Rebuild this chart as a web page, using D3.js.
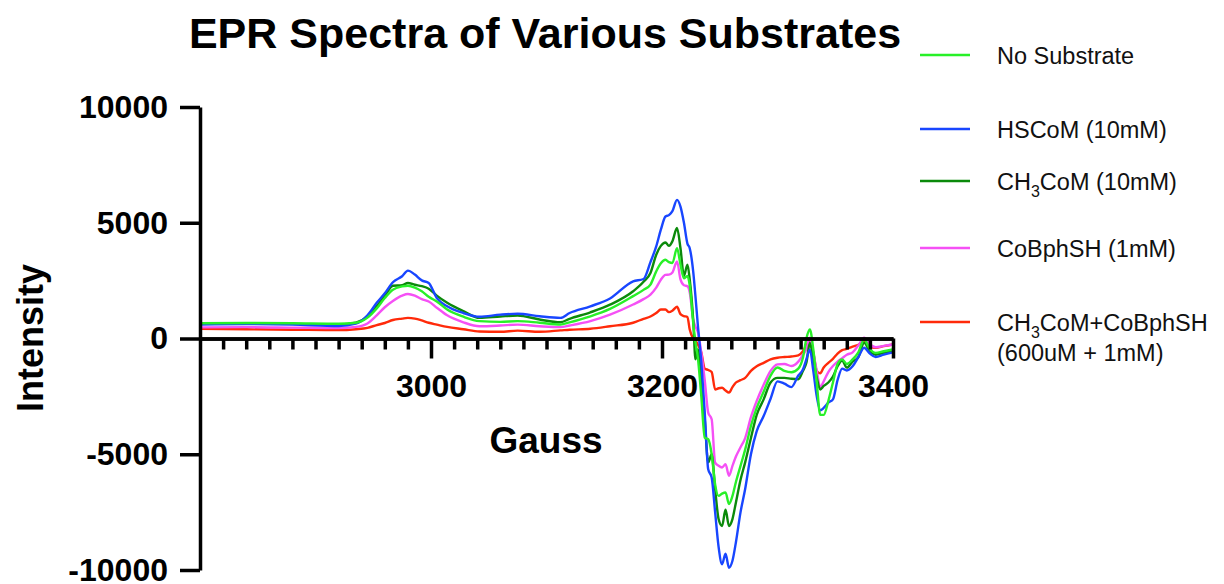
<!DOCTYPE html>
<html>
<head>
<meta charset="utf-8">
<script src="https://cdn.jsdelivr.net/npm/d3@7"></script>
<style>
  body { margin: 0; background: #fff; }
  svg { display: block; font-family: "Liberation Sans", Arial, Helvetica, sans-serif; }
</style>
</head>
<body>
<svg id="chart" width="1224" height="584"></svg>
<script>
// magnetic field (Gauss) shared by all spectra
const gauss = [
  2800, 2840, 2880, 2920, 2935, 2945, 2953, 2960, 2967, 2975,
  2980, 2986, 2992, 2998, 3005, 3014, 3028, 3042, 3060, 3075,
  3094, 3112, 3120, 3138, 3155, 3175, 3184, 3190, 3195, 3199,
  3203, 3206, 3209, 3213, 3216, 3219, 3222, 3224, 3227, 3229,
  3231, 3234, 3237, 3240, 3243, 3246, 3249, 3252, 3255, 3258,
  3261, 3264, 3268, 3272, 3277, 3282, 3288, 3294, 3300, 3306,
  3312, 3318, 3322, 3325, 3328, 3331, 3334, 3337, 3340, 3344,
  3348, 3352, 3356, 3360, 3365, 3370, 3375, 3380, 3385, 3392,
  3400
];

const noSubstrate = [
  660, 670, 660, 640, 680, 900, 1300, 1750, 2110, 2250,
  2280, 2200, 2040, 1800, 1600, 1250, 940, 750, 720, 750,
  680, 600, 700, 960, 1280, 1830, 2100, 2330, 2900, 3250,
  3400, 3300, 3260, 3900, 3200, 2600, 2700, 2300, 690, -170,
  -800, -2480, -4280, -4350, -5000, -6300, -6800, -6700, -6650, -7150,
  -6800, -6200, -5500, -4800, -3780, -3000, -2300, -1600, -1250, -1400,
  -1460, -1300, -830, 0, 390, -470, -1900, -3300, -3300, -2700,
  -1900, -1100, -900, -1100, -900, -600, -40, -450, -620, -550,
  -470
];

const hscom = [
  600, 620, 600, 540, 640, 1000, 1540, 1950, 2430, 2690,
  2930, 2760, 2510, 2400, 1750, 1390, 1100, 940, 1030, 1070,
  960, 890, 1100, 1390, 1730, 2470, 2570, 3300, 3980, 4700,
  5270, 5330, 5500, 5990, 5700, 5000, 4100, 3900, 2900, 1800,
  600, -1000, -3200, -5650, -6000, -7500, -9000, -9750, -9300, -9900,
  -9600, -8800, -7500, -6500, -5000, -4000, -3350, -2600, -1850, -1950,
  -2100, -1600, -1340, -900, -470, -1400, -2500, -3100, -3000, -2770,
  -2630, -1800, -1300, -1380, -1200, -800, -400, -650, -800, -700,
  -600
];

const ch3com = [
  640, 650, 630, 600, 680, 950, 1400, 1850, 2280, 2300,
  2400, 2320, 2260, 2150, 1850, 1540, 1180, 890, 950, 990,
  820, 700, 850, 1130, 1460, 2040, 2450, 2830, 3620, 4000,
  4150, 4000, 4200, 4770, 3900, 2700, 3190, 2550, 820, -900,
  -470, -1800, -3500, -5350, -5000, -6500, -7800, -8100, -7400, -8100,
  -7800, -7080, -6100, -5350, -4300, -3300, -2630, -1900, -1700, -1700,
  -1740, -1760, -1400, -1050, -190, -900, -1700, -2200, -2050, -1900,
  -1650, -1200, -950, -1260, -1000, -800, -190, -550, -700, -620,
  -550
];

const cobphsh = [
  480, 490, 470, 450, 500, 650, 1000, 1350, 1620, 1850,
  1920, 1850, 1700, 1600, 1330, 1000, 700, 530, 560, 600,
  530, 490, 560, 750, 1030, 1470, 1700, 1900, 2200, 2540,
  2750, 2760, 2850, 3330, 2550, 2300, 2260, 2000, 820, 500,
  300, -600, -1800, -3200, -3490, -5360, -5500, -5570, -5430, -5930,
  -5500, -5100, -4700, -4300, -3400, -2700, -2000, -1400, -1120, -1100,
  -1190, -1000, -700, -470, 30, -620, -1400, -2100, -1850, -1450,
  -1190, -1000, -850, -700, -600, -300, 30, -250, -380, -320,
  -260
];

const ch3comCobphsh = [
  420, 400, 380, 360, 400, 460, 580, 670, 800, 860,
  890, 860, 780, 680, 600, 500, 400, 300, 290, 340,
  290, 350, 380, 420, 530, 680, 850, 950, 1100, 1250,
  1250, 1140, 1200, 1370, 1050, 970, 930, 390, 0, -100,
  -250, -600, -1300, -1360, -1450, -2200, -2150, -2130, -2250, -2340,
  -2100, -1900, -1800, -1700, -1400, -1200, -1050, -900, -830, -800,
  -780, -730, -550, -300, -120, -620, -1400, -1500, -1250, -1050,
  -880, -650, -500, -450, -350, -270, -120, -350, -400, -330,
  -260
];

const seriesNames = [
  "No Substrate",
  "HSCoM (10mM)",
  "CH3CoM (10mM)",
  "CoBphSH (1mM)",
  "CH3CoM+CoBphSH\n(600uM + 1mM)"
];
const seriesValues = [noSubstrate, hscom, ch3com, cobphsh, ch3comCobphsh];

const xMajorTicks = [3000, 3200, 3400];
const yTicks = [-10000, -5000, 0, 5000, 10000];

// styling / layout
const colors = ["#28f028", "#1846ff", "#0b8a0b", "#f550f5", "#ff2a0a"];
const legendY = [55, 129, 181, 248, 322];

const svg = d3.select("#chart");

const x = d3.scaleLinear().domain([2800, 3400]).range([200, 893]);
const y = d3.scaleLinear().domain([-10000, 10000]).range([570, 107]);

const series = seriesNames.map((name, i) => ({
  name,
  color: colors[i],
  points: gauss.map((g, j) => [g, seriesValues[i][j]])
}));

const line = d3.line()
  .x(d => x(d[0]))
  .y(d => y(d[1]))
  .curve(d3.curveMonotoneX);

// spectra (first series ends up on top)
svg.append("g")
  .selectAll("path")
  .data(series.slice().reverse())
  .join("path")
  .attr("d", d => line(d.points))
  .attr("fill", "none")
  .attr("stroke", d => d.color)
  .attr("stroke-width", 2.4)
  .attr("stroke-linejoin", "round");

// plain hyphen for negatives, like the original
const fmt = d => String(d);

// x axis: minor ticks every 20 G, major every 200 G
const minorTicks = d3.range(2820, 3400, 20).filter(v => !xMajorTicks.includes(v));
const xMinor = svg.append("g")
  .attr("transform", `translate(0,${y(0)})`)
  .call(d3.axisBottom(x).tickValues(minorTicks).tickSize(11).tickSizeOuter(0).tickFormat(""));

const xMajor = svg.append("g")
  .attr("transform", `translate(0,${y(0)})`)
  .call(d3.axisBottom(x).tickValues(xMajorTicks).tickSize(20).tickSizeOuter(0).tickPadding(16).tickFormat(fmt));

const yAxis = svg.append("g")
  .attr("transform", `translate(${x(2800)},0)`)
  .call(d3.axisLeft(y).tickValues(yTicks).tickSize(20).tickSizeOuter(0).tickPadding(12).tickFormat(fmt));

[xMinor, xMajor, yAxis].forEach(g => {
  g.select(".domain").attr("stroke", "#000").attr("stroke-width", 3.5);
  g.selectAll(".tick line").attr("stroke", "#000").attr("stroke-width", 3.5);
  g.selectAll(".tick text")
    .attr("fill", "#000")
    .style("font-size", "32px")
    .style("font-weight", "bold")
    .style("font-family", "'Liberation Sans', Arial, sans-serif");
});

// titles
svg.append("text")
  .attr("x", 545).attr("y", 48)
  .attr("text-anchor", "middle")
  .style("font-size", "43px").style("font-weight", "bold")
  .text("EPR Spectra of Various Substrates");

svg.append("text")
  .attr("x", 546).attr("y", 453)
  .attr("text-anchor", "middle")
  .style("font-size", "37px").style("font-weight", "bold")
  .text("Gauss");

svg.append("text")
  .attr("transform", "translate(43,338) rotate(-90)")
  .attr("text-anchor", "middle")
  .style("font-size", "36px").style("font-weight", "bold")
  .text("Intensity");

// legend
const addLabel = (sel, str) => {
  // CH3 -> CH with subscript 3
  const parts = str.split(/(CH3)/).filter(p => p);
  let shift = 0;
  parts.forEach(p => {
    if (p === "CH3") {
      sel.append("tspan").attr("dy", -shift).text("CH");
      sel.append("tspan").attr("dy", 7).style("font-size", "16px").text("3");
      shift = 7;
    } else {
      sel.append("tspan").attr("dy", -shift).text(p);
      shift = 0;
    }
  });
};

const legend = svg.append("g");
series.forEach((s, i) => {
  const ly = legendY[i];
  legend.append("line")
    .attr("x1", 920).attr("x2", 970)
    .attr("y1", ly).attr("y2", ly)
    .attr("stroke", s.color).attr("stroke-width", 2.4);
  s.name.split("\n").forEach((ln, k) => {
    const t = legend.append("text")
      .attr("x", 997).attr("y", ly + 8.5 + k * 30)
      .style("font-size", "23.5px")
      .attr("fill", "#111");
    addLabel(t, ln);
  });
});
</script>
</body>
</html>
